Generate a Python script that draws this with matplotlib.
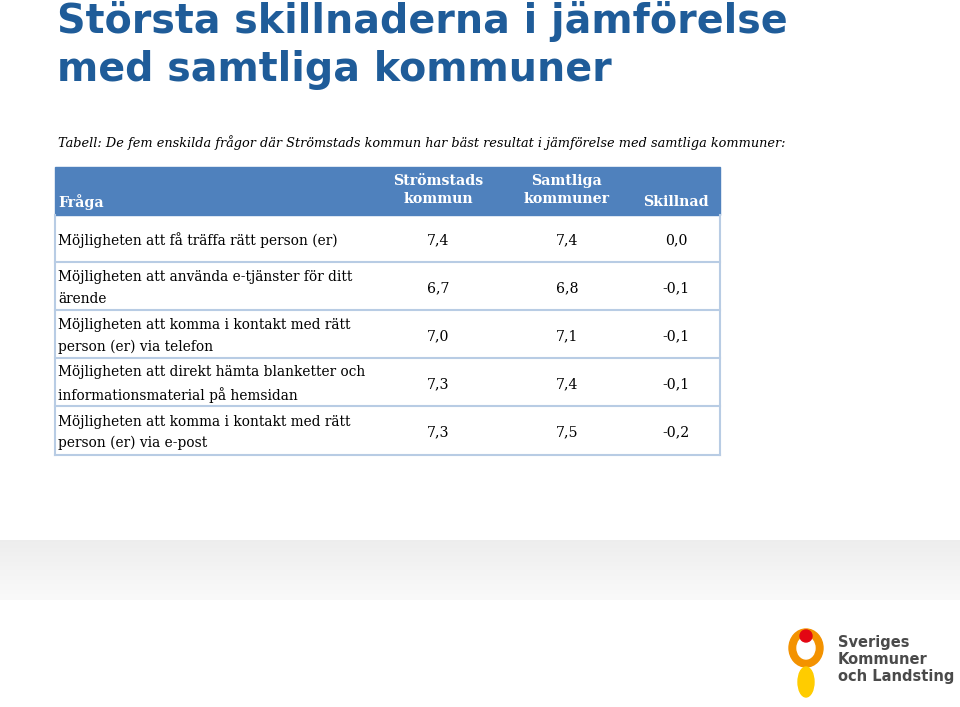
import matplotlib.pyplot as plt
from matplotlib.patches import Rectangle, Ellipse

title_lines = ["Största skillnaderna i jämförelse", "med samtliga kommuner"]
subtitle = "Tabell: De fem enskilda frågor där Strömstads kommun har bäst resultat i jämförelse med samtliga kommuner:"
headers = ["Fråga", "Strömstads\nkommun", "Samtliga\nkommuner", "Skillnad"]
questions = [
    "Möjligheten att få träffa rätt person (er)",
    "Möjligheten att använda e-tjänster för ditt\närende",
    "Möjligheten att komma i kontakt med rätt\nperson (er) via telefon",
    "Möjligheten att direkt hämta blanketter och\ninformationsmaterial på hemsidan",
    "Möjligheten att komma i kontakt med rätt\nperson (er) via e-post",
]
stromstad = ["7,4", "6,7", "7,0", "7,3", "7,3"]
samtliga = ["7,4", "6,8", "7,1", "7,4", "7,5"]
skillnad = ["0,0", "-0,1", "-0,1", "-0,1", "-0,2"]

fig = plt.figure(figsize=(9.6, 7.07), dpi=100)
ax = fig.add_axes([0, 0, 1, 1])
ax.set_xlim(0, 960)
ax.set_ylim(707, 0)
ax.axis("off")

serif = "DejaVu Serif"
blue = "#1F5C99"
for i, line in enumerate(title_lines):
    ax.text(57, 22 + i * 48, line, fontsize=28.5, fontweight="bold", color=blue,
            va="center", ha="left", family="DejaVu Sans")
ax.text(58, 143, subtitle, fontsize=9.3, style="italic", family=serif,
        va="center", ha="left")

# header band
ax.add_patch(Rectangle((55, 167), 665, 48, color="#4F81BD"))
hx = [58, 438, 567, 676]
for x, h, ha in zip(hx, headers, ["left", "center", "center", "center"]):
    y = 202 if h in ("Fråga", "Skillnad") else 190
    ax.text(x, y, h, fontsize=10.2, fontweight="bold", color="white", family=serif,
            ha=ha, va="center", linespacing=1.45)

row_top = [215, 262, 310, 358, 406]
row_bot = [262, 310, 358, 406, 455]
for i, q in enumerate(questions):
    yc = (row_top[i] + row_bot[i]) / 2 + 2
    ax.text(58, yc, q, fontsize=9.9, family=serif, ha="left", va="center",
            linespacing=1.65)
    for x, v in zip([438, 567, 676], [stromstad[i], samtliga[i], skillnad[i]]):
        ax.text(x, yc, v, fontsize=10.2, family=serif, ha="center", va="center")
    ax.plot([55, 720], [row_bot[i], row_bot[i]], color="#B8CCE4", lw=1.5)
ax.plot([55, 55], [215, 455], color="#B8CCE4", lw=1.5)
ax.plot([720, 720], [215, 455], color="#B8CCE4", lw=1.5)

# bottom grey band
for k in range(30):
    g = 0.93 + 0.05 * k / 30
    ax.add_patch(Rectangle((0, 540 + k * 2), 960, 2, color=(g, g, g), lw=0))
ax.add_patch(Rectangle((0, 603), 960, 104, color="white", lw=0))

# logo
ax.add_patch(Ellipse((806, 648), 34, 38, color="#F39200"))
ax.add_patch(Ellipse((806, 648), 18, 22, color="white"))
ax.add_patch(Ellipse((806, 682), 16, 30, color="#FFCC00"))
ax.add_patch(Ellipse((806, 636), 12, 12, color="#E30613"))
for i, t in enumerate(["Sveriges", "Kommuner", "och Landsting"]):
    ax.text(838, 643 + i * 17, t, fontsize=10.5, fontweight="bold", color="#4A4A4A",
            family="DejaVu Sans", ha="left", va="center")

fig.savefig("out.png", dpi=100)
